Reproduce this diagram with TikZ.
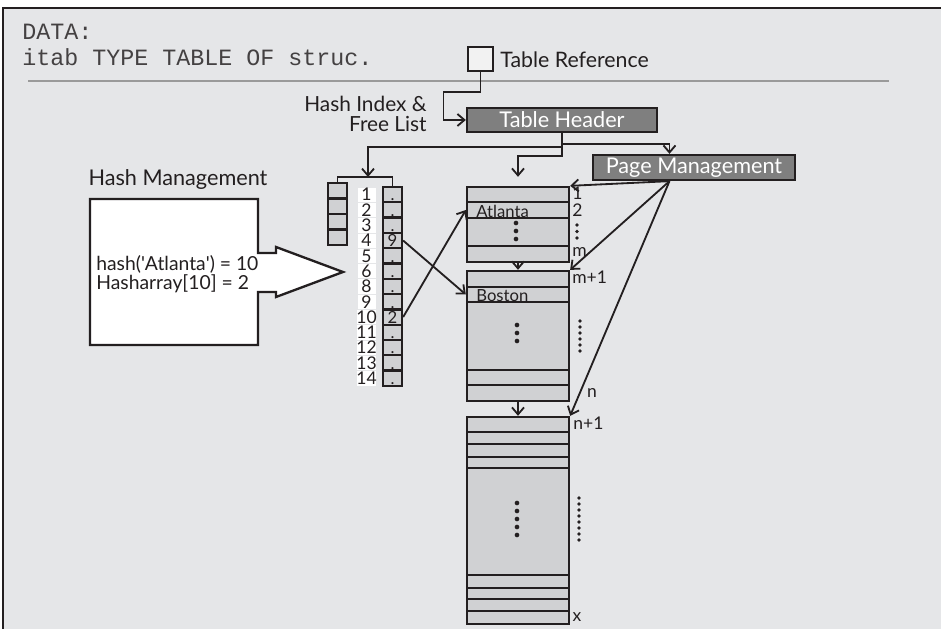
\documentclass[tikz,border=0pt]{standalone}
\usepackage{fontspec}
\setmainfont{Lato}
\setmonofont{Liberation Mono}
\usepackage{xcolor}
\usepackage{tikz}
\usetikzlibrary{arrows.meta,calc,positioning}
\definecolor{bgray}{HTML}{E5E6E8}
\definecolor{rowgray}{HTML}{D0D1D3}
\definecolor{hdgray}{HTML}{7F7F7F}
\definecolor{linegray}{HTML}{9A9A9A}
\definecolor{ink}{HTML}{231F20}
\tikzstyle{arrow} = [line width=1.1pt,draw=ink,->,>={Straight Barb[length=4.2pt,width=7.2pt]}]
\tikzstyle{cell} = [rectangle, draw=ink, line width=1.4pt, fill=rowgray, inner sep=0pt, minimum width=11.4pt, minimum height=9.2pt]
\tikzstyle{numcell} = [rectangle, draw=bgray, line width=0.4pt, fill=white, inner sep=0pt, minimum width=11.4pt, minimum height=9.2pt, font=\fontsize{10.5}{10}\selectfont, text=ink]
\tikzstyle{pagerow} = [rectangle, draw=ink, line width=1.4pt, fill=rowgray, inner sep=0pt, minimum width=61.2pt]
\tikzstyle{darkbox} = [rectangle, draw=ink, line width=1.4pt, fill=hdgray, text=white, font=\fontsize{13}{14}\selectfont, inner sep=0pt, minimum height=14.4pt]
\tikzstyle{lbl} = [font=\fontsize{10.5}{12}\selectfont, inner sep=0pt, text=ink]
\tikzstyle{big} = [font=\fontsize{12.8}{14}\selectfont, inner sep=0pt, text=ink]

\begin{document}
\begin{tikzpicture}[x=0.6pt, y=-0.6pt]
    \useasboundingbox (0,0) rectangle (941,629);
    \fill[bgray] (3,8) rectangle (941,629);
    \draw[ink, line width=1.2pt] (3,629) -- (3,8) -- (941,8);
    \node[anchor=base west, inner sep=0pt, font=\ttfamily\fontsize{14}{16}\selectfont, text=ink!85] (data) at (22,40) {DATA:};
    \node[anchor=base west, inner sep=0pt, font=\ttfamily\fontsize{14}{16}\selectfont, text=ink!85] (itab) at (22,66) {itab TYPE TABLE OF struc.};
    \draw[linegray, line width=1.5pt] (28,81) -- (889,81);

    \node[rectangle, draw=ink, line width=1.3pt, fill=white!95!black, minimum width=15pt, minimum height=14.4pt, inner sep=0pt] (tref) at (480.5,59) {};
    \node[big, anchor=west] (treflbl) at (500,60) {Table Reference};
    \node[big, anchor=east, align=right, font=\fontsize{12.5}{12}\selectfont] (hixlbl) at (427,114) {Hash Index \&\\Free List};
    \node[darkbox, minimum width=114pt] (th) at (562,120) {Table Header};
    \node[darkbox, minimum width=121.2pt, minimum height=15pt] (pm) at (694,167.5) {Page Management};
    \coordinate (pmtop) at ($(pm.north west)!0.38!(pm.north east)$);
    \coordinate (pmfoot) at ($(pm.south west)!0.38!(pm.south east)$);
    \draw[arrow] (tref.south) -- ++(0,20) -- ++(-37,0) |- (th.west);

    \node[big, font=\fontsize{13}{14}\selectfont] (hmlbl) at (178,180) {Hash Management};
    \draw[ink, line width=1.4pt, fill=white] (90,199) -- (258,199) -- (258,253) -- (276,253) -- (276,247) -- (343,272) -- (276,297) -- (276,292) -- (258,292) -- (258,345) -- (90,345) -- cycle;
    \node[lbl, anchor=west, align=left, font=\fontsize{11.6}{9.6}\selectfont] (hcalc) at (96,274) {hash(\textquotesingle Atlanta\textquotesingle) = 10\\Hasharray[10] = 2};

    \foreach \i in {1,...,4} {
        \node[cell] (fl\i) at (337.5,{183+(\i-0.5)*15.5}) {};
    }
    \foreach \n/\v [count=\i] in {1/.,2/.,3/.,4/9,5/.,6/.,8/.,9/.,10/2,11/.,12/.,13/.,14/.} {
        \node[numcell] (ix\i) at (366.5,{187+(\i-0.5)*15.3}) {\n};
        \node[cell] (h\i) at (392.5,{187+(\i-0.5)*15.3}) {};
        \node[lbl, anchor=base, font=\fontsize{10}{10}\selectfont] (hv\i) at ($(h\i.south)+(0,-2.5)$) {\v};
    }
    \coordinate (brk) at (368,177);
    \draw[ink, line width=1.1pt] (fl1.north) |- (brk) -| (h1.north);

    \foreach \t/\b [count=\i] in {187/202,202/218,218/246,246/262} {
        \node[pagerow, minimum height={(\b-\t)*0.6pt}] (pa\i) at (518,{(\t+\b)/2}) {};
    }
    \foreach \t/\b [count=\i] in {271/287,287/302,302/370,370/385,385/401} {
        \node[pagerow, minimum height={(\b-\t)*0.6pt}] (pb\i) at (518,{(\t+\b)/2}) {};
    }
    \foreach \t/\b [count=\i] in {417/432,432/444,444/457,457/468,468/575,575/588,588/599,599/611,611/624} {
        \node[pagerow, minimum height={(\b-\t)*0.6pt}] (pc\i) at (518,{(\t+\b)/2}) {};
    }
    \node[lbl, anchor=west, font=\fontsize{10}{10}\selectfont] (atl) at (476,211) {Atlanta};
    \node[lbl, anchor=west, font=\fontsize{10}{10}\selectfont] (bos) at (476,296) {Boston};

    \foreach \y in {223,231,239} \fill[ink] (516,\y) circle (1.4pt);
    \foreach \y in {325,333,341} \fill[ink] (517,\y) circle (1.4pt);
    \foreach \y in {503,511,519,527,535} \fill[ink] (517,\y) circle (1.4pt);
    \foreach \y in {225,231.5,238} \fill[ink] (577,\y) circle (1.1pt);
    \foreach \y in {321,327,333,339,345,351} \fill[ink] (580,\y) circle (1.1pt);
    \foreach \y in {498,504,510,516,522,528,534,540} \fill[ink] (579,\y) circle (1.1pt);

    \node[lbl, anchor=west] (l1) at (572,193) {1};
    \node[lbl, anchor=west] (l2) at (572,210) {2};
    \node[lbl, anchor=west] (lm) at (572,252) {m};
    \node[lbl, anchor=west] (lm1) at (572,277) {m+1};
    \node[lbl] (ln) at (592,393) {n};
    \node[lbl, anchor=west] (ln1) at (573,423) {n+1};
    \node[lbl] (lx) at (577,617) {x};

    \draw[arrow] (th.south) -- ++(0,11) -| (pmtop);
    \draw[arrow] (th.south) -- ++(0,14) -| (brk);
    \draw[arrow, shorten >=5.4pt] (th.south) -- ++(0,23) -| (pa1.north);
    \draw[arrow] (pa4.south) -- (pb1.north);
    \draw[arrow] (pb5.south) -- (pc1.north);
    \draw[arrow] (h4.east) -- (pb2.west);
    \draw[arrow] (h9.east) -- (pa2.west);
    \draw[arrow] (pmfoot) -- (pa1.north east);
    \draw[arrow] (pmfoot) -- (pb1.north east);
    \draw[arrow] (pmfoot) -- (pc1.north east);
\end{tikzpicture}
\end{document}
